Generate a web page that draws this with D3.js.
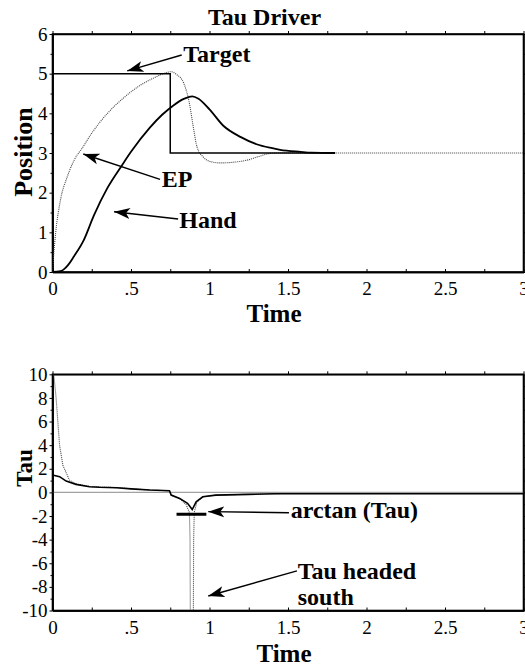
<!DOCTYPE html>
<html>
<head>
<meta charset="utf-8">
<script src="https://cdn.jsdelivr.net/npm/d3@7"></script>
<style>
  body { margin: 0; background: #fff; }
  .axis path, .axis line { stroke: #000; }
</style>
</head>
<body>
<div id="chart"></div>
<script>
var serif = "Liberation Serif, Times New Roman, serif";

// time axis, shared by both panels
var timeTicks = [0, 0.5, 1, 1.5, 2, 2.5, 3];
var timeLabels = ["0", ".5", "1", "1.5", "2", "2.5", "3"];
var timeMinor = [0.25, 0.75, 1.25, 1.75, 2.25, 2.75];

// top panel y axis
var posTicks = [0, 1, 2, 3, 4, 5, 6];
var posMinor = [0.5, 1.5, 2.5, 3.5, 4.5, 5.5];

// bottom panel y axis
var tauTicks = [-10, -8, -6, -4, -2, 0, 2, 4, 6, 8, 10];
var tauMinor = [-9, -7, -5, -3, -1, 1, 3, 5, 7, 9];

// top panel series, [time, position]
var target = [[0, 5], [0.75, 5], [0.75, 3], [1.8, 3]];
var hand = [[0, 0], [0.05, 0.02], [0.07, 0.06], [0.1, 0.18], [0.136, 0.39], [0.2, 0.81], [0.263, 1.42],
    [0.35, 2.12], [0.444, 2.7], [0.5, 3.03], [0.62, 3.64], [0.7, 3.97], [0.77, 4.2], [0.84, 4.37],
    [0.89, 4.43], [0.93, 4.37], [1.0, 4.1], [1.09, 3.68], [1.2, 3.4], [1.3, 3.22], [1.4, 3.12],
    [1.45, 3.08], [1.58, 3.03], [1.65, 3.01], [1.8, 3.0]];
var ep = [[0, 0], [0.005, 0.3], [0.02, 0.98], [0.05, 1.8], [0.094, 2.4], [0.157, 2.95], [0.18, 3.07],
    [0.25, 3.5], [0.35, 4.0], [0.45, 4.38], [0.56, 4.71], [0.65, 4.9], [0.72, 5.02], [0.755, 5.05],
    [0.79, 4.98], [0.836, 4.76], [0.87, 4.29], [0.9, 3.58], [0.92, 3.16], [0.96, 2.9], [1.0, 2.79],
    [1.07, 2.75], [1.16, 2.77], [1.24, 2.82], [1.32, 2.92], [1.39, 2.99], [1.45, 3.0], [3, 3]];

// bottom panel series, [time, tau]
var tau = [[0.005, 10.4], [0.023, 8], [0.034, 6], [0.045, 4], [0.066, 2.3], [0.108, 1.04], [0.15, 0.72],
    [0.236, 0.5], [0.41, 0.4], [0.62, 0.2], [0.745, 0.14], [0.756, -0.23], [0.81, -0.55], [0.85, -1.0],
    [0.872, -1.7], [0.876, -4], [0.878, -11], [0.897, -11], [0.899, -4], [0.903, -1.7], [0.92, -0.8],
    [0.96, -0.37], [1.04, -0.23], [1.4, -0.1], [1.45, -0.12]];
var arctanTau = [[0, 1.47], [0.045, 1.33], [0.087, 0.96], [0.15, 0.68], [0.236, 0.48], [0.3, 0.43],
    [0.41, 0.39], [0.5, 0.3], [0.62, 0.2], [0.745, 0.14], [0.756, -0.23], [0.81, -0.51], [0.86, -0.93],
    [0.89, -1.45], [0.915, -0.8], [0.957, -0.37], [1.04, -0.23], [1.25, -0.17], [1.42, -0.12], [3, -0.12]];
var tauZero = [[0, 0], [3, 0]];
var arctanBar = [[0.79, -1.85], [0.98, -1.85]];

// annotations: label, text anchor point and arrow [from, to] in data units
var topNotes = [
    { lines: ["Target"], at: [0.833, 5.30], from: [0.823, 5.47], to: [0.476, 5.07] },
    { lines: ["EP"], at: [0.696, 2.135], from: [0.685, 2.337], to: [0.196, 2.975] },
    { lines: ["Hand"], at: [0.808, 1.10], from: [0.80, 1.336], to: [0.392, 1.52] }
];
var bottomNotes = [
    { lines: ["arctan (Tau)"], at: [1.517, -2.19], from: [1.506, -1.72], to: [0.992, -1.63] },
    { lines: ["Tau headed", "south"], at: [1.562, -7.36], from: [1.557, -6.65], to: [0.992, -8.77] }
];

var W = 525, H = 666;
var svg = d3.select("#chart")
    .append("svg")
    .attr("width", W)
    .attr("height", H)
    .attr("font-family", serif);

svg.append("defs").append("marker")
    .attr("id", "arrow")
    .attr("markerUnits", "userSpaceOnUse")
    .attr("markerWidth", 18)
    .attr("markerHeight", 12)
    .attr("viewBox", "0 -6 18 12")
    .attr("refX", 16)
    .attr("refY", 0)
    .attr("orient", "auto")
    .append("path")
    .attr("d", "M16,0 L0,-5.5 L4,0 L0,5.5 Z")
    .attr("fill", "#000");

var x = d3.scaleLinear().domain([0, 3]).range([52.5, 523.5]);

var boldText = function (sel, size) {
    return sel.attr("font-family", serif)
        .attr("font-weight", "bold")
        .attr("font-size", size)
        .attr("fill", "#000");
};

var drawPanel = function (cfg) {
    var y = d3.scaleLinear().domain(cfg.domain).range([cfg.bottom, cfg.top]);
    var g = svg.append("g");
    var clipId = "clip" + cfg.name;

    g.append("clipPath").attr("id", clipId)
        .append("rect")
        .attr("x", x(0)).attr("y", cfg.top)
        .attr("width", x(3) - x(0)).attr("height", cfg.bottom - cfg.top);

    // minor ticks
    g.append("g").attr("class", "axis").attr("transform", "translate(0," + cfg.bottom + ")")
        .call(d3.axisBottom(x).tickValues(timeMinor).tickFormat("").tickSizeInner(-3).tickSizeOuter(0));
    g.append("g").attr("class", "axis").attr("transform", "translate(0," + cfg.top + ")")
        .call(d3.axisTop(x).tickValues(timeTicks.concat(timeMinor)).tickFormat("").tickSizeInner(3).tickSizeOuter(0));
    g.append("g").attr("class", "axis").attr("transform", "translate(" + x(0) + ",0)")
        .call(d3.axisLeft(y).tickValues(cfg.minor).tickFormat("").tickSizeInner(2).tickSizeOuter(0));
    g.append("g").attr("class", "axis").attr("transform", "translate(" + x(3) + ",0)")
        .call(d3.axisRight(y).tickValues(cfg.ticks.concat(cfg.minor)).tickFormat("").tickSizeInner(3).tickSizeOuter(0));

    // labelled axes
    g.append("g").attr("class", "axis").attr("transform", "translate(0," + cfg.bottom + ")")
        .call(d3.axisBottom(x).tickValues(timeTicks)
            .tickFormat(function (d, i) { return timeLabels[i]; })
            .tickSizeInner(-3).tickSizeOuter(0).tickPadding(10));
    g.append("g").attr("class", "axis").attr("transform", "translate(" + x(0) + ",0)")
        .call(d3.axisLeft(y).tickValues(cfg.ticks)
            .tickFormat(function (d) { return String(d); })
            .tickSizeInner(3).tickSizeOuter(0).tickPadding(2));

    g.selectAll(".axis")
        .attr("font-family", serif)
        .attr("font-size", 19);
    g.selectAll(".axis text").attr("fill", "#000");
    g.selectAll(".axis path").attr("stroke-width", 1.6);

    // frame
    g.append("rect")
        .attr("x", x(0)).attr("y", cfg.top)
        .attr("width", x(3) - x(0)).attr("height", cfg.bottom - cfg.top)
        .attr("fill", "none").attr("stroke", "#000").attr("stroke-width", 1.6);

    var line = d3.line()
        .x(function (d) { return x(d[0]); })
        .y(function (d) { return y(d[1]); });
    var curve = d3.line()
        .curve(d3.curveMonotoneX)
        .x(function (d) { return x(d[0]); })
        .y(function (d) { return y(d[1]); });

    var plot = g.append("g").attr("clip-path", "url(#" + clipId + ")");
    cfg.series.forEach(function (s) {
        plot.append("path")
            .datum(s.data)
            .attr("d", s.smooth ? curve : line)
            .attr("fill", "none")
            .attr("stroke", s.dotted ? "#444" : "#000")
            .attr("stroke-width", s.width)
            .attr("stroke-dasharray", s.dotted ? "1,1" : null);
    });

    // annotations
    cfg.notes.forEach(function (n) {
        g.append("line")
            .attr("x1", x(n.from[0])).attr("y1", y(n.from[1]))
            .attr("x2", x(n.to[0])).attr("y2", y(n.to[1]))
            .attr("stroke", "#000").attr("stroke-width", 1.4)
            .attr("marker-end", "url(#arrow)");
        var t = boldText(g.append("text"), 24)
            .attr("x", x(n.at[0])).attr("y", y(n.at[1]));
        n.lines.forEach(function (l, i) {
            t.append("tspan").attr("x", x(n.at[0])).attr("dy", i ? 26 : 0).text(l);
        });
    });

    // axis titles
    boldText(g.append("text"), 25)
        .attr("x", cfg.timeX).attr("y", cfg.timeY)
        .attr("text-anchor", "middle")
        .text("Time");
    boldText(g.append("text"), cfg.yTitleSize)
        .attr("transform", "translate(" + cfg.yTitleX + "," + cfg.yTitleY + ") rotate(-90)")
        .attr("text-anchor", "middle")
        .text(cfg.yTitle);
};

boldText(svg.append("text"), 24)
    .attr("x", 264.5).attr("y", 25)
    .attr("text-anchor", "middle")
    .text("Tau Driver");

drawPanel({
    name: "top", domain: [0, 6], top: 34, bottom: 272,
    ticks: posTicks, minor: posMinor,
    series: [
        { data: ep, dotted: true, width: 1.1, smooth: true },
        { data: target, width: 1.5 },
        { data: hand, width: 1.8, smooth: true }
    ],
    notes: topNotes,
    timeX: 274, timeY: 322,
    yTitle: "Position", yTitleX: 32, yTitleY: 152, yTitleSize: 26
});

drawPanel({
    name: "bottom", domain: [-10, 10], top: 374.3, bottom: 610.5,
    ticks: tauTicks, minor: tauMinor,
    series: [
        { data: tauZero, dotted: true, width: 1.1 },
        { data: tau, dotted: true, width: 1.1 },
        { data: arctanTau, width: 1.6 },
        { data: arctanBar, width: 3.2 }
    ],
    notes: bottomNotes,
    timeX: 284, timeY: 662,
    yTitle: "Tau", yTitleX: 32, yTitleY: 468, yTitleSize: 23
});
</script>
</body>
</html>
